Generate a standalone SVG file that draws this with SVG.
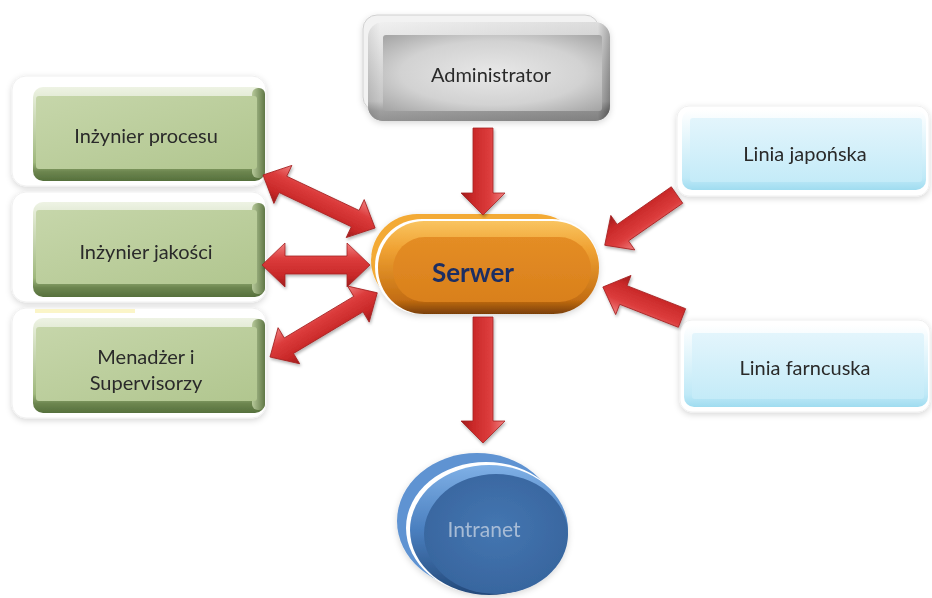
<svg xmlns="http://www.w3.org/2000/svg" width="932" height="598" viewBox="0 0 932 598">
  <defs>
    <filter id="soft" x="-10%" y="-10%" width="120%" height="130%">
      <feGaussianBlur in="SourceAlpha" stdDeviation="3"/>
      <feOffset dx="0" dy="2" result="b"/>
      <feFlood flood-color="#000" flood-opacity="0.16"/>
      <feComposite in2="b" operator="in"/>
      <feMerge><feMergeNode/><feMergeNode in="SourceGraphic"/></feMerge>
    </filter>
    <filter id="ashadow" x="-20%" y="-40%" width="140%" height="180%">
      <feGaussianBlur in="SourceAlpha" stdDeviation="1.5"/>
      <feOffset dx="1" dy="2" result="b"/>
      <feFlood flood-color="#000" flood-opacity="0.3"/>
      <feComposite in2="b" operator="in"/>
      <feMerge><feMergeNode/><feMergeNode in="SourceGraphic"/></feMerge>
    </filter>
    <!-- arrow body shading -->
    <linearGradient id="gArrow" x1="0" y1="0" x2="0" y2="1">
      <stop offset="0" stop-color="#f08080"/>
      <stop offset="0.35" stop-color="#dc3c3c"/>
      <stop offset="0.75" stop-color="#c82828"/>
      <stop offset="1" stop-color="#9c1c1c"/>
    </linearGradient>
    <!-- green boxes -->
    <linearGradient id="gGreenBody" x1="0" y1="0" x2="0" y2="1">
      <stop offset="0" stop-color="#eef3e4"/>
      <stop offset="0.8" stop-color="#9fb87c"/>
      <stop offset="0.9" stop-color="#6d8650"/>
      <stop offset="1" stop-color="#56703c"/>
    </linearGradient>
    <linearGradient id="gGreenFace" x1="0" y1="0" x2="1" y2="1">
      <stop offset="0" stop-color="#c6d6aa"/>
      <stop offset="1" stop-color="#b1c68f"/>
    </linearGradient>
    <linearGradient id="gGreenSide" x1="0" y1="0" x2="1" y2="0">
      <stop offset="0" stop-color="#b7c99a"/>
      <stop offset="1" stop-color="#5f7745"/>
    </linearGradient>
    <!-- blue boxes -->
    <linearGradient id="gBlueBody" x1="0" y1="0" x2="0" y2="1">
      <stop offset="0" stop-color="#ffffff"/>
      <stop offset="0.85" stop-color="#bfe9f7"/>
      <stop offset="1" stop-color="#9fdcf0"/>
    </linearGradient>
    <linearGradient id="gBlueFace" x1="0" y1="0" x2="0" y2="1">
      <stop offset="0" stop-color="#e3f5fc"/>
      <stop offset="1" stop-color="#c4ebf8"/>
    </linearGradient>
    <!-- grey box -->
    <linearGradient id="gGreyBody" x1="0" y1="0" x2="0" y2="1">
      <stop offset="0" stop-color="#ffffff"/>
      <stop offset="0.8" stop-color="#a9a9a9"/>
      <stop offset="0.9" stop-color="#5e5e5e"/>
      <stop offset="1" stop-color="#444444"/>
    </linearGradient>
    <linearGradient id="gGreySide" x1="0" y1="0" x2="1" y2="0">
      <stop offset="0" stop-color="#bdbdbd"/>
      <stop offset="0.05" stop-color="#e0e0e0"/>
      <stop offset="0.95" stop-color="#bbbbbb"/>
      <stop offset="1" stop-color="#555555"/>
    </linearGradient>
    <radialGradient id="gGreyFace" cx="0.5" cy="0.5" r="0.7">
      <stop offset="0" stop-color="#e8e8e8"/>
      <stop offset="0.6" stop-color="#d2d2d2"/>
      <stop offset="1" stop-color="#a4a4a4"/>
    </radialGradient>
    <!-- orange pill -->
    <linearGradient id="gOrangeBody" x1="0" y1="0" x2="0" y2="1">
      <stop offset="0" stop-color="#f9c460"/>
      <stop offset="0.3" stop-color="#f0a233"/>
      <stop offset="0.85" stop-color="#c36d12"/>
      <stop offset="1" stop-color="#7a3f06"/>
    </linearGradient>
    <linearGradient id="gOrangeFace" x1="0" y1="0" x2="0" y2="1">
      <stop offset="0" stop-color="#e48d25"/>
      <stop offset="1" stop-color="#d9801c"/>
    </linearGradient>
    <!-- blue disc -->
    <linearGradient id="gDiscBody" x1="0" y1="0" x2="0" y2="1">
      <stop offset="0" stop-color="#7fb0e6"/>
      <stop offset="0.5" stop-color="#4a7fbf"/>
      <stop offset="1" stop-color="#23497a"/>
    </linearGradient>
    <radialGradient id="gDiscFace" cx="0.5" cy="0.45" r="0.6">
      <stop offset="0" stop-color="#4476b1"/>
      <stop offset="1" stop-color="#37649d"/>
    </radialGradient>
    <style>
      .lbl { font-family: Lato, "Open Sans", "Liberation Sans", sans-serif; font-size: 20px; fill: #2a2a2a; text-anchor: middle; dominant-baseline: central; }
      .halo { fill: #ffffff; stroke: #f0f0f0; stroke-width: 1; }
      .arrow { fill: url(#gArrow); stroke: #a52222; stroke-width: 0.8; stroke-linejoin: round; }
    </style>
  </defs>

  <rect width="932" height="598" fill="#ffffff"/>

  <!-- Administrator -->
  <g id="administrator" filter="url(#soft)">
    <rect x="363" y="15" width="236" height="96" rx="14" fill="#f2f2f2" stroke="#d0d0d0"/>
    <rect x="368" y="22" width="242" height="99" rx="15" fill="url(#gGreyBody)"/>
    <rect x="368" y="22" width="242" height="99" rx="15" fill="url(#gGreySide)" opacity="0.5"/>
    <rect x="383" y="35" width="219" height="76" rx="3" fill="url(#gGreyFace)"/>
    <text class="lbl" x="491" y="74">Administrator</text>
  </g>

  <!-- Inżynier procesu -->
  <g id="inzynier-procesu" filter="url(#soft)">
    <rect class="halo" x="12" y="76" width="254" height="110" rx="14"/>
    <rect x="33" y="87" width="232" height="94" rx="10" fill="url(#gGreenBody)"/>
    <rect x="252" y="88" width="13" height="90" rx="6" fill="url(#gGreenSide)"/>
    <rect x="36" y="96" width="221" height="73" rx="3" fill="url(#gGreenFace)"/>
    <text class="lbl" x="146" y="135">Inżynier procesu</text>
  </g>

  <!-- Inżynier jakości -->
  <g id="inzynier-jakosci" filter="url(#soft)">
    <rect class="halo" x="12" y="192" width="254" height="110" rx="14"/>
    <rect x="33" y="202" width="232" height="95" rx="10" fill="url(#gGreenBody)"/>
    <rect x="252" y="203" width="13" height="91" rx="6" fill="url(#gGreenSide)"/>
    <rect x="36" y="210" width="221" height="74" rx="3" fill="url(#gGreenFace)"/>
    <text class="lbl" x="146" y="251">Inżynier jakości</text>
  </g>

  <!-- Menadżer i Supervisorzy -->
  <g id="menadzer" filter="url(#soft)">
    <rect class="halo" x="12" y="308" width="254" height="110" rx="14"/>
    <rect x="35" y="309" width="100" height="4" fill="#fbf5c8"/>
    <rect x="33" y="318" width="232" height="95" rx="10" fill="url(#gGreenBody)"/>
    <rect x="252" y="319" width="13" height="91" rx="6" fill="url(#gGreenSide)"/>
    <rect x="36" y="327" width="221" height="74" rx="3" fill="url(#gGreenFace)"/>
    <text class="lbl" x="146" y="356">Menadżer i</text>
    <text class="lbl" x="146" y="382">Supervisorzy</text>
  </g>

  <!-- Linia japońska -->
  <g id="linia-japonska" filter="url(#soft)">
    <rect class="halo" x="677" y="106" width="252" height="90" rx="12" stroke="#d8f0f8"/>
    <rect x="682" y="110" width="244" height="80" rx="10" fill="url(#gBlueBody)"/>
    <rect x="690" y="118" width="232" height="64" rx="3" fill="url(#gBlueFace)"/>
    <text class="lbl" x="805" y="153">Linia japońska</text>
  </g>

  <!-- Linia farncuska -->
  <g id="linia-farncuska" filter="url(#soft)">
    <rect class="halo" x="680" y="320" width="250" height="92" rx="12" stroke="#d8f0f8"/>
    <rect x="684" y="325" width="244" height="82" rx="10" fill="url(#gBlueBody)"/>
    <rect x="692" y="333" width="232" height="66" rx="3" fill="url(#gBlueFace)"/>
    <text class="lbl" x="805" y="367">Linia farncuska</text>
  </g>

  <!-- Serwer -->
  <g id="serwer" filter="url(#soft)">
    <rect x="371" y="214" width="212" height="92" rx="46" fill="#f3aa35"/>
    <rect x="375" y="219" width="224" height="95" rx="47" fill="#ffffff"/>
    <rect x="378" y="221" width="221" height="93" rx="46" fill="url(#gOrangeBody)"/>
    <rect x="393" y="237" width="198" height="65" rx="32" fill="url(#gOrangeFace)"/>
    <text x="473" y="272" font-family="Lato, 'Open Sans', 'Liberation Sans', sans-serif" font-size="26" font-weight="bold" fill="#1d2f63" text-anchor="middle" dominant-baseline="central">Serwer</text>
  </g>

  <!-- Intranet -->
  <g id="intranet" filter="url(#soft)">
    <ellipse cx="477" cy="521" rx="80" ry="68" fill="#5f93d2"/>
    <ellipse cx="486" cy="528" rx="80" ry="66" fill="#ffffff"/>
    <ellipse cx="489" cy="530" rx="79" ry="65" fill="url(#gDiscBody)"/>
    <ellipse cx="496" cy="534" rx="72" ry="60" fill="url(#gDiscFace)"/>
    <text x="484" y="528" font-family="Lato, 'Open Sans', 'Liberation Sans', sans-serif" font-size="21" fill="#a7bcd6" text-anchor="middle" dominant-baseline="central">Intranet</text>
  </g>

  <!-- Connectors: shapes drawn along +x in a local frame, then placed -->
  <g id="connectors" filter="url(#ashadow)">
    <!-- Administrator -> Serwer -->
    <path class="arrow" transform="translate(483,128) rotate(90)" d="M0,-10 L65,-10 L65,-22 L87,0 L65,22 L65,10 L0,10 Z"/>
    <!-- Serwer -> Intranet -->
    <path class="arrow" transform="translate(483,317) rotate(90)" d="M0,-10 L104,-10 L104,-22 L126,0 L104,22 L104,10 L0,10 Z"/>
    <!-- Inżynier procesu <-> Serwer -->
    <path class="arrow" transform="translate(263,175) rotate(25.3)" d="M0,0 L22,-21 L22,-9 L102,-9 L102,-21 L124,0 L102,21 L102,9 L22,9 L22,21 Z"/>
    <!-- Inżynier jakości <-> Serwer -->
    <path class="arrow" transform="translate(262,265)" d="M0,0 L23,-22 L23,-9 L85,-9 L85,-22 L108,0 L85,22 L85,9 L23,9 L23,22 Z"/>
    <!-- Menadżer i Supervisorzy <-> Serwer -->
    <path class="arrow" transform="translate(270,357) rotate(-30.9)" d="M0,0 L22,-21 L22,-9 L103,-9 L103,-21 L125,0 L103,21 L103,9 L22,9 L22,21 Z"/>
    <!-- Linia japońska -> Serwer -->
    <path class="arrow" transform="translate(677,195) rotate(145.2)" d="M0,-10 L66,-10 L66,-21 L88,0 L66,21 L66,10 L0,10 Z"/>
    <!-- Linia farncuska -> Serwer -->
    <path class="arrow" transform="translate(682,318) rotate(201.4)" d="M0,-10 L63,-10 L63,-21 L85,0 L63,21 L63,10 L0,10 Z"/>
  </g>
</svg>
